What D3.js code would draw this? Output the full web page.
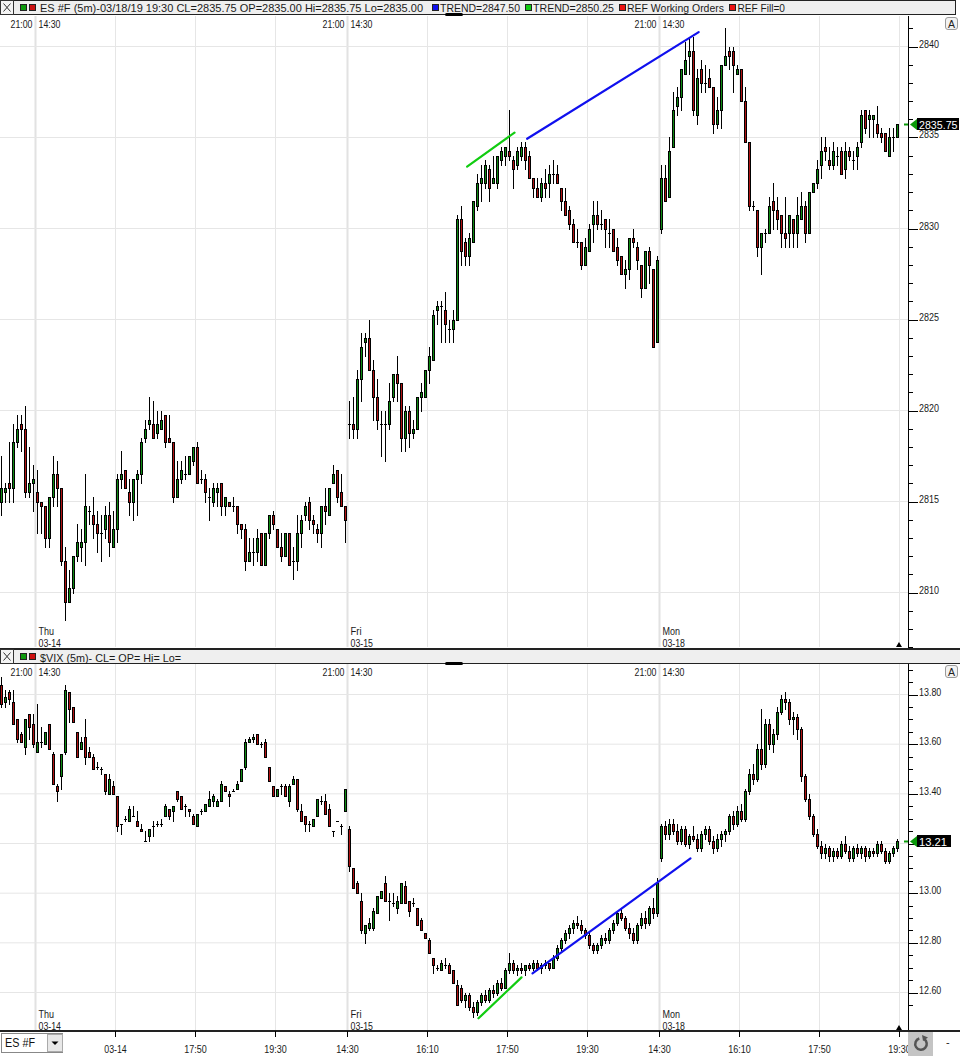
<!DOCTYPE html>
<html><head><meta charset="utf-8">
<script src="https://cdn.jsdelivr.net/npm/d3@7"></script>
<style>body{margin:0;background:#fff}svg{display:block;font-family:"Liberation Sans",Arial,sans-serif}</style>
</head><body><svg id="c" width="960" height="1056"></svg>
<script>
// ===== DATA (O,H,L,C per 5-minute bar) =====
const dayNames = ["Thu","Fri","Mon"];
const dayDates = ["03-14","03-15","03-18"];
const sessionOpen = "14:30", sessionClose = "21:00";
const bottomAxisLabels = ["03-14","17:50","19:30","14:30","16:10","17:50","19:30","14:30","16:10","17:50","19:30"];
const bottomAxisBars   = [29,49,69,87,107,127,147,165,185,205,225];
const esTicks  = [2810,2815,2820,2825,2830,2835,2840];
const vixTicks = [12.6,12.8,13.0,13.2,13.4,13.6,13.8];
const esLast = 2835.75, vixLast = 13.21;

const esWed = [[2815,2817.5,2814.25,2815.75],[2815.5,2816,2815,2815.75],[2816,2818.25,2815,2815.75],[2815.75,2819.25,2815,2818.25],[2818.25,2819.75,2818,2819],[2819.25,2819.75,2817.75,2819],[2819,2820.25,2815.25,2815.5],[2815.5,2818,2815.25,2816],[2816,2817,2814.5,2816.25]];
const esThu = [[2815.5,2816.75,2813.25,2815],[2815,2815,2813.25,2814.75],[2814.75,2814.75,2812.5,2813],[2813,2815.25,2812.5,2815.25],[2815.25,2817.5,2814.75,2816.5],[2816.5,2817.25,2814.75,2815.75],[2815.75,2815.75,2811.5,2811.75],[2811.75,2812.5,2808.5,2809.5],[2809.5,2811.25,2809.5,2810.25],[2810.25,2812,2810,2812],
[2812,2813.75,2811.75,2812.75],[2812.5,2813.5,2811.75,2812.75],[2812.75,2816.5,2811.5,2814.75],[2814.5,2814.75,2813.75,2814.5],[2814.25,2815.25,2813,2813.75],[2813.75,2814.5,2812.25,2813.25],[2813.25,2814.25,2811.75,2813.25],[2813.5,2814.75,2813,2814.25],[2814.25,2815,2812,2812.75],[2812.5,2814.5,2812.5,2813.5],
[2813.5,2816.5,2812.75,2816.25],[2816.25,2817.75,2815.75,2816.5],[2816.75,2816.75,2815.75,2815.75],[2815.5,2816.25,2814.25,2815],[2815,2816.25,2814,2816.25],[2816.25,2816.75,2814.25,2816.5],[2816.5,2818.5,2816,2818.25],[2818.5,2819.5,2818.25,2819],[2819.25,2820.75,2819,2819.5],[2819.25,2820.5,2818.5,2818.5],
[2818.75,2820,2818.5,2819.25],[2819,2820,2819,2819.5],[2819.75,2819.75,2818,2818.25],[2818.5,2819.75,2818.25,2818.25],[2818.25,2818.25,2815,2815.25],[2815.25,2817.25,2815.25,2816.25],[2816.25,2817.25,2816,2816.75],[2816.5,2817.5,2816.25,2816.5],[2816.5,2817.5,2816.5,2817.5],[2817.25,2818,2817,2818],
[2818,2818.25,2816,2816],[2816.25,2816.75,2816,2816.25],[2816.25,2816.5,2815,2815.5],[2815.25,2815.75,2814,2815.25],[2815,2816,2814.75,2815.75],[2815.5,2816,2814.75,2815.75],[2816,2816,2814.25,2814.75],[2814.75,2815.25,2814.25,2815.25],[2815,2815,2814.75,2814.75],[2814.75,2815.25,2814.5,2814.75],
[2814.75,2814.75,2813.25,2813.75],[2813.75,2813.75,2813,2813.5],[2813.5,2813.75,2811.25,2811.75],[2811.75,2813,2811.75,2812.25],[2812.25,2813,2811.5,2812.25],[2812.25,2813.5,2811.75,2813],[2813.25,2813.25,2811.5,2811.5],[2811.5,2813.25,2811.5,2813.25],[2813.25,2814.25,2813,2814.25],[2814.25,2814.5,2813.5,2813.75],
[2813.5,2813.5,2812.5,2812.5],[2812.5,2813.25,2811.75,2812],[2812,2813.25,2812,2813.25],[2813.25,2813.25,2811.5,2811.5],[2811.75,2812.5,2810.75,2811.75],[2811.75,2814.25,2811.25,2813.25],[2813.25,2814.25,2812.5,2814],[2814.25,2815,2814,2814.75],[2815,2815.25,2813.5,2814],[2814,2814.25,2813.25,2813.75],
[2813.5,2813.75,2812.75,2813.25],[2813.25,2814.75,2812.5,2814.75],[2814.75,2815.75,2813.75,2814.5],[2814.25,2815.75,2814.25,2815.75],[2816,2817,2816,2816.5],[2816.75,2816.75,2815,2815.25],[2815.5,2816.5,2814.75,2814.75],[2814.75,2814.75,2812.75,2814]];
const esFri = [[2819.25,2820.5,2818.5,2819.25],[2819.25,2820.75,2818.5,2819],[2819,2822.25,2818.5,2821.75],[2821.75,2824.25,2820.5,2823.5],[2823.75,2824.25,2823,2824],[2824,2825,2822.25,2822.25],[2822.25,2822.75,2819.5,2820.75],[2820.75,2821.75,2819,2819.5],[2819.25,2820,2817.5,2819.25],[2819.25,2820,2817.25,2819.25],
[2819.25,2821.5,2819,2820.5],[2820.75,2822,2820.5,2822],[2822,2823,2820.5,2821.5],[2821.5,2821.5,2817.75,2818.5],[2818.5,2820.25,2817.75,2820],[2820,2820.25,2818,2818.75],[2818.75,2819.5,2818.5,2819],[2819,2820.75,2819,2820.75],[2820.75,2821.5,2820,2821],[2820.75,2822.25,2820.75,2822.25],
[2822.25,2823.5,2821.5,2823],[2822.75,2825.5,2822.75,2825.25],[2825.5,2826,2824.75,2825.75],[2825.75,2826,2823.75,2825.75],[2825.5,2826.5,2823.75,2824.75],[2824.5,2825,2823.75,2824.5],[2824.5,2825.5,2823.75,2825],[2825,2830.75,2825,2830.5],[2830.5,2831.25,2828,2828.75],[2829.25,2829.5,2828,2828.5],
[2828.5,2829.75,2828,2829.5],[2829.25,2831.5,2829.25,2831.5],[2831.25,2833,2831,2832.5],[2832.5,2833.5,2831.5,2832.75],[2832.5,2833.75,2832.25,2833.5],[2833.25,2833.5,2831.5,2832.25],[2832.5,2834,2832.5,2832.75],[2832.5,2834,2832.25,2834],[2833.75,2834.5,2833.5,2834.25],[2834,2834.5,2833.5,2834.5],
[2834.25,2836.5,2833.75,2834],[2833.75,2834,2832.25,2833.25],[2833.5,2834.5,2833.25,2834.25],[2834,2834.75,2833.75,2834.5],[2834.5,2834.75,2833.25,2833.75],[2834,2834.25,2832.75,2832.75],[2832.75,2832.75,2831.75,2832.25],[2832.25,2832.75,2831.75,2831.75],[2831.75,2832.75,2831.5,2832.5],[2832.5,2833.25,2831.75,2832.25],
[2832.5,2833.5,2831.75,2833],[2833,2833.75,2832.5,2833],[2833,2833.5,2832.5,2832.5],[2832.25,2832.25,2831,2831.5],[2831.5,2832.25,2830.75,2830.75],[2831,2831.25,2830,2830.25],[2830.25,2830.5,2829.25,2829.25],[2829.25,2830,2829,2829.25],[2829.25,2829.25,2827.75,2828],[2828,2829.5,2828,2829],
[2828.75,2830.25,2828.75,2830],[2830.25,2831.5,2829.25,2830.75],[2830.75,2831.5,2830,2830.25],[2830.25,2831,2830,2830.25],[2830.5,2830.5,2829,2830],[2829.75,2830.5,2829,2829.75],[2830,2830,2828.75,2828.75],[2829,2829.5,2828,2828.25],[2828.5,2828.5,2827.5,2827.5],[2827.5,2828.25,2826.75,2827.75],
[2827.75,2829.5,2827.25,2829.5],[2829.5,2830,2829,2829.25],[2829,2829.25,2827.75,2828.25],[2828,2828,2826.25,2826.75],[2826.75,2828.75,2826.75,2828.75],[2828.75,2829,2827,2828],[2827.75,2827.75,2823.5,2823.5],[2823.75,2828.5,2823.75,2828.25]];
const esMon = [[2830,2833.5,2829.75,2832.75],[2832.75,2833.5,2831.5,2831.5],[2831.75,2835,2831.75,2834.25],[2834.5,2837.5,2834.5,2836.5],[2836.75,2837.75,2836.25,2837.25],[2837.25,2838.75,2836.5,2838.75],[2838.5,2840.25,2838.5,2839.25],[2839.5,2840.5,2838.5,2839.75],[2839.75,2840.5,2836.25,2836.5],[2836.25,2838.75,2835.75,2838.25],
[2838.75,2839.25,2837.5,2838],[2838,2839,2837.5,2838],[2838.25,2838.75,2837.75,2837.75],[2837.75,2837.75,2835.25,2835.75],[2835.75,2837.25,2835.5,2836.5],[2836.5,2839,2835.5,2839],[2839,2841,2839,2839.5],[2839.75,2840,2838.75,2839.5],[2839.75,2840,2837.5,2839],[2838.5,2839,2838.5,2838.75],
[2838.75,2838.75,2837,2837],[2837,2837.75,2834.75,2834.75],[2834.75,2834.75,2831,2831.25],[2831.25,2831.5,2831,2831.25],[2831,2831,2828.5,2829],[2829,2829.75,2827.5,2829.75],[2829.75,2830,2829.25,2829.75],[2829.75,2831.75,2829.75,2831.25],[2831.5,2832.5,2830,2831],[2831,2831.75,2830,2830.5],
[2830.75,2830.75,2829,2829.75],[2829.75,2831.75,2829,2829.5],[2829.75,2830.75,2829,2830.75],[2830.5,2830.5,2829,2829.75],[2829.75,2831.75,2829,2830.75],[2830.5,2832,2830.5,2831.25],[2831.25,2831.5,2829.25,2829.75],[2829.75,2832,2829.75,2832],[2832,2832.5,2832,2832.5],[2832.5,2833.75,2832.25,2833.25],
[2833.5,2835,2832.75,2834.25],[2834.5,2835,2833.75,2834.25],[2833.75,2834.5,2833.25,2833.5],[2833.5,2834.75,2833.25,2834.25],[2834,2834.5,2833.5,2834],[2834.25,2834.5,2833,2833],[2833.25,2834.75,2832.75,2834.25],[2834.25,2834.5,2833.75,2834],[2833.75,2834.25,2833.25,2833.75],[2834,2834.75,2833.25,2834.5],
[2834.75,2836.5,2834.5,2836.25],[2836.5,2836.5,2835.25,2835.5],[2836,2836.5,2835,2836.25],[2836,2836.25,2835,2836.25],[2835.75,2836.75,2835,2835.25],[2835.25,2835.5,2834.75,2835],[2835.25,2835.25,2834.25,2834.25],[2834,2835.5,2834,2835],[2835,2835.5,2834.25,2835],[2835,2835.75,2835,2835.75]];

const vixWed = [[13.84,13.87,13.75,13.76],[13.77,13.82,13.75,13.79],[13.81,13.82,13.76,13.78],[13.77,13.82,13.68,13.68],[13.70,13.70,13.61,13.62],[13.64,13.65,13.61,13.61],[13.59,13.70,13.56,13.70],[13.72,13.72,13.62,13.67],[13.68,13.72,13.59,13.60]];
const vixThu = [[13.57,13.76,13.57,13.61],[13.61,13.67,13.59,13.61],[13.60,13.65,13.60,13.65],[13.68,13.68,13.58,13.58],[13.56,13.57,13.44,13.44],[13.43,13.44,13.37,13.41],[13.47,13.56,13.42,13.56],[13.57,13.84,13.56,13.82],[13.81,13.81,13.69,13.74],[13.75,13.75,13.69,13.69],
[13.65,13.65,13.55,13.55],[13.58,13.63,13.58,13.61],[13.63,13.70,13.52,13.55],[13.57,13.59,13.55,13.55],[13.55,13.56,13.50,13.50],[13.51,13.53,13.50,13.51],[13.50,13.51,13.48,13.50],[13.48,13.48,13.40,13.41],[13.40,13.48,13.40,13.46],[13.43,13.45,13.40,13.40],
[13.39,13.39,13.25,13.27],[13.28,13.28,13.24,13.28],[13.30,13.31,13.29,13.30],[13.29,13.35,13.29,13.34],[13.31,13.35,13.31,13.31],[13.29,13.33,13.27,13.27],[13.26,13.28,13.25,13.25],[13.21,13.25,13.21,13.21],[13.23,13.26,13.21,13.26],[13.27,13.29,13.23,13.27],
[13.28,13.29,13.27,13.28],[13.28,13.30,13.27,13.28],[13.31,13.36,13.31,13.35],[13.34,13.34,13.30,13.31],[13.33,13.35,13.29,13.35],[13.41,13.41,13.37,13.38],[13.39,13.39,13.34,13.34],[13.35,13.36,13.31,13.35],[13.34,13.34,13.31,13.33],[13.31,13.32,13.28,13.28],
[13.27,13.32,13.27,13.32],[13.33,13.34,13.32,13.33],[13.33,13.36,13.33,13.36],[13.35,13.41,13.35,13.38],[13.37,13.40,13.35,13.39],[13.35,13.38,13.35,13.37],[13.37,13.45,13.37,13.44],[13.43,13.43,13.41,13.41],[13.40,13.41,13.35,13.39],[13.41,13.42,13.41,13.41],
[13.42,13.45,13.42,13.44],[13.45,13.50,13.45,13.50],[13.51,13.62,13.50,13.61],[13.61,13.63,13.61,13.62],[13.62,13.64,13.61,13.63],[13.64,13.64,13.60,13.60],[13.60,13.61,13.59,13.60],[13.61,13.62,13.55,13.55],[13.51,13.51,13.45,13.45],[13.43,13.43,13.39,13.39],
[13.39,13.42,13.39,13.42],[13.43,13.44,13.40,13.43],[13.43,13.44,13.39,13.39],[13.37,13.44,13.35,13.43],[13.44,13.47,13.44,13.46],[13.46,13.46,13.33,13.34],[13.33,13.36,13.29,13.29],[13.31,13.31,13.25,13.28],[13.28,13.29,13.25,13.28],[13.27,13.30,13.27,13.30],
[13.31,13.38,13.31,13.38],[13.37,13.39,13.36,13.37],[13.37,13.40,13.32,13.32],[13.34,13.36,13.27,13.27],[13.25,13.25,13.23,13.25],[13.29,13.29,13.29,13.29],[13.27,13.28,13.24,13.27],[13.33,13.42,13.33,13.42]];
const vixFri = [[13.26,13.27,13.09,13.11],[13.10,13.10,13.02,13.02],[13.04,13.05,13.00,13.00],[12.97,13.00,12.84,12.85],[12.84,12.87,12.80,12.87],[12.86,12.90,12.85,12.88],[12.86,12.94,12.85,12.93],[12.92,12.99,12.92,12.99],[12.98,13.01,12.98,13.01],[13.04,13.07,12.97,12.97],
[12.97,13.00,12.89,12.97],[12.96,13.00,12.95,12.96],[12.94,12.99,12.92,12.97],[12.96,13.04,12.96,13.04],[13.03,13.05,12.96,12.96],[12.97,12.97,12.91,12.93],[12.96,12.98,12.95,12.96],[12.94,12.94,12.87,12.87],[12.89,12.90,12.85,12.85],[12.84,12.84,12.82,12.82],
[12.81,12.82,12.76,12.76],[12.74,12.74,12.68,12.71],[12.70,12.71,12.69,12.70],[12.69,12.73,12.69,12.72],[12.71,12.74,12.70,12.71],[12.71,12.72,12.68,12.68],[12.69,12.69,12.64,12.64],[12.63,12.65,12.55,12.55],[12.62,12.63,12.56,12.57],[12.57,12.60,12.54,12.59],
[12.59,12.60,12.53,12.54],[12.54,12.56,12.50,12.52],[12.52,12.57,12.51,12.56],[12.56,12.60,12.55,12.59],[12.59,12.61,12.56,12.57],[12.57,12.62,12.56,12.61],[12.61,12.63,12.58,12.60],[12.60,12.65,12.59,12.64],[12.64,12.66,12.61,12.62],[12.62,12.70,12.62,12.69],
[12.69,12.76,12.68,12.72],[12.72,12.73,12.68,12.69],[12.69,12.71,12.67,12.70],[12.70,12.72,12.68,12.69],[12.69,12.71,12.67,12.71],[12.71,12.72,12.69,12.70],[12.70,12.73,12.69,12.72],[12.72,12.73,12.69,12.70],[12.70,12.72,12.68,12.71],[12.71,12.73,12.70,12.72],
[12.72,12.72,12.69,12.70],[12.70,12.75,12.70,12.74],[12.74,12.79,12.73,12.78],[12.78,12.82,12.77,12.81],[12.81,12.85,12.80,12.84],[12.84,12.87,12.82,12.86],[12.86,12.89,12.84,12.88],[12.88,12.91,12.86,12.87],[12.87,12.89,12.84,12.85],[12.85,12.86,12.82,12.83],
[12.83,12.84,12.78,12.79],[12.79,12.80,12.76,12.77],[12.77,12.80,12.76,12.79],[12.79,12.83,12.78,12.82],[12.82,12.84,12.80,12.81],[12.81,12.86,12.80,12.85],[12.85,12.89,12.84,12.88],[12.88,12.93,12.87,12.92],[12.92,12.94,12.89,12.90],[12.90,12.91,12.85,12.86],
[12.86,12.88,12.82,12.84],[12.84,12.86,12.80,12.81],[12.81,12.88,12.80,12.87],[12.87,12.92,12.86,12.90],[12.90,12.93,12.86,12.88],[12.88,12.95,12.87,12.94],[12.94,12.98,12.90,12.92],[12.92,13.06,12.91,13.04]];
const vixMon = [[13.14,13.28,13.13,13.27],[13.27,13.29,13.22,13.24],[13.24,13.30,13.22,13.28],[13.28,13.30,13.24,13.25],[13.25,13.28,13.20,13.21],[13.21,13.27,13.20,13.26],[13.26,13.27,13.19,13.20],[13.20,13.24,13.18,13.23],[13.23,13.27,13.21,13.22],[13.22,13.24,13.17,13.18],
[13.18,13.25,13.17,13.24],[13.24,13.27,13.22,13.26],[13.26,13.27,13.20,13.21],[13.21,13.23,13.16,13.18],[13.18,13.24,13.17,13.22],[13.22,13.25,13.19,13.24],[13.24,13.26,13.21,13.25],[13.25,13.32,13.24,13.31],[13.31,13.33,13.26,13.28],[13.28,13.35,13.27,13.33],
[13.33,13.36,13.29,13.30],[13.30,13.42,13.29,13.41],[13.41,13.50,13.40,13.48],[13.48,13.52,13.44,13.46],[13.46,13.60,13.45,13.58],[13.58,13.74,13.50,13.52],[13.52,13.70,13.51,13.68],[13.68,13.70,13.58,13.60],[13.60,13.66,13.57,13.64],[13.64,13.75,13.62,13.73],
[13.73,13.80,13.72,13.78],[13.78,13.81,13.74,13.77],[13.77,13.78,13.68,13.70],[13.70,13.73,13.64,13.71],[13.71,13.72,13.62,13.66],[13.66,13.67,13.45,13.47],[13.47,13.48,13.37,13.38],[13.38,13.40,13.30,13.31],[13.31,13.32,13.23,13.24],[13.24,13.26,13.18,13.19],
[13.19,13.21,13.14,13.16],[13.16,13.20,13.14,13.18],[13.18,13.19,13.13,13.15],[13.15,13.18,13.13,13.17],[13.17,13.18,13.14,13.15],[13.15,13.21,13.14,13.20],[13.20,13.23,13.16,13.17],[13.17,13.19,13.13,13.14],[13.14,13.19,13.13,13.18],[13.18,13.20,13.15,13.16],
[13.16,13.19,13.14,13.18],[13.18,13.19,13.13,13.15],[13.15,13.18,13.14,13.17],[13.17,13.18,13.15,13.16],[13.16,13.21,13.15,13.20],[13.20,13.21,13.16,13.17],[13.17,13.18,13.12,13.13],[13.13,13.17,13.12,13.16],[13.16,13.19,13.15,13.18],[13.18,13.22,13.17,13.21]];

// trend lines: [barIndex, value] endpoints
const esTrendGreen  = [[116.4,2833.4],[128.25,2835.27]];
const esTrendBlue   = [[131.4,2834.93],[174.3,2840.79]];
const vixTrendGreen = [[119.25,12.496],[130,12.661]];
const vixTrendBlue  = [[132.75,12.677],[172.25,13.14]];

// ===== DRAW =====
const svg = d3.select("#c");
const es  = [].concat(esWed, esThu, esFri, esMon);
const vix = [].concat(vixWed, vixThu, vixFri, vixMon);
const dayStart = [esWed.length, esWed.length+esThu.length, esWed.length+esThu.length+esFri.length];
const nBars = es.length;
const x = d3.scaleLinear().domain([0, nBars-1]).range([1.5, 1.5 + 4*(nBars-1)]);
const UP = "#0e8a12", DN = "#b01212", GRID = "#e6e6e6", INK = "#1a1a1a";
const AX = 908;

const topP = {y0:16, y1:647, y: d3.scaleLinear().domain([2810,2840]).range([592.5,46.5])};
const botP = {y0:664, y1:1030, y: d3.scaleLinear().domain([12.6,13.8]).range([992.5,694.5])};

svg.append("rect").attr("width",960).attr("height",1056).attr("fill","#fff");
const defs = svg.append("defs");
[["clipTop",topP],["clipBot",botP]].forEach(([id,p])=>{
  defs.append("clipPath").attr("id",id).append("rect").attr("x",0).attr("y",p.y0).attr("width",AX).attr("height",p.y1-p.y0);
});

function T(g,s,xx,yy,o={}){
  const t=g.append("text").attr("x",xx).attr("y",yy).text(s).attr("font-size",o.fs||10).attr("fill",o.fill||INK);
  if(o.anchor) t.attr("text-anchor",o.anchor);
  if(o.len) t.attr("textLength",o.len).attr("lengthAdjust","spacingAndGlyphs");
  if(o.fw) t.attr("font-weight",o.fw);
  return t;
}

const gridBars = [];
dayStart.forEach(d=>{ for(let k=0;k<4;k++) gridBars.push({b:d+20*k, day:k===0}); });
const gridX = b => x(b) - 2;

function panel(p, data, ticks, clipId, trendG, trendB, last, fmt, minorStep, minorFrom, minorTo, lblLen, boxW, boxLen){
  const g = svg.append("g");
  g.selectAll("line.vg").data(gridBars.filter(d=>gridX(d.b)<AX)).join("line")
    .attr("x1",d=>gridX(d.b)).attr("x2",d=>gridX(d.b)).attr("y1",p.y0).attr("y2",p.y1)
    .attr("stroke",d=>d.day?"#e2e2e2":GRID).attr("stroke-width",d=>d.day?2:1);
  g.selectAll("line.hg").data(ticks).join("line")
    .attr("x1",0).attr("x2",AX).attr("y1",d=>p.y(d)).attr("y2",d=>p.y(d)).attr("stroke",GRID);
  const cg = g.append("g").attr("clip-path",`url(#${clipId})`);
  cg.selectAll("line.w").data(data).join("line")
    .attr("x1",(d,i)=>x(i)).attr("x2",(d,i)=>x(i))
    .attr("y1",d=>Math.round(p.y(d[1]))).attr("y2",d=>Math.round(p.y(d[2]))+1)
    .attr("stroke","#000").attr("stroke-width",1);
  const bodies = data.map((d,i)=>{
    const t=Math.round(p.y(Math.max(d[0],d[3]))), b=Math.round(p.y(Math.min(d[0],d[3])));
    return {i,t,b,up:d[3]>=d[0]};
  });
  cg.selectAll("rect.b").data(bodies.filter(d=>d.b-d.t>=2)).join("rect")
    .attr("x",d=>x(d.i)-1).attr("y",d=>d.t+0.5).attr("width",2).attr("height",d=>d.b-d.t)
    .attr("fill",d=>d.up?UP:DN).attr("stroke","#000").attr("stroke-width",1);
  cg.selectAll("line.dj").data(bodies.filter(d=>d.b-d.t<2)).join("line")
    .attr("x1",d=>x(d.i)-1.5).attr("x2",d=>x(d.i)+1.5).attr("y1",d=>d.t+0.5).attr("y2",d=>d.t+0.5)
    .attr("stroke","#000").attr("stroke-width",d=>d.b-d.t>=1?2:1);
  [[trendG,"#11cc11"],[trendB,"#1010ee"]].forEach(([tl,c])=>{
    cg.append("line").attr("x1",x(tl[0][0])).attr("y1",p.y(tl[0][1])).attr("x2",x(tl[1][0])).attr("y2",p.y(tl[1][1]))
      .attr("stroke",c).attr("stroke-width",2.2).attr("stroke-linecap","round");
  });
  dayStart.forEach(d=>{
    const gx = gridX(d);
    T(g,sessionClose,gx-3,p.y0+12,{anchor:"end",len:22});
    T(g,sessionOpen,gx+3,p.y0+12,{len:22});
  });
  dayStart.forEach((d,k)=>{
    const gx = gridX(d);
    T(g,dayNames[k],gx+3,p.y1-12,{len:[15.5,11,17.5][k]});
    T(g,dayDates[k],gx+3,p.y1-0.5,{len:22.5});
  });
  g.append("path").attr("d",`M${x(nBars-1)-1.5},${p.y1}l6,0l-3,-5z`).attr("fill","#000");
  // right axis
  const ax = svg.append("g");
  ax.append("line").attr("x1",AX+0.5).attr("x2",AX+0.5).attr("y1",p.y0).attr("y2",p.y1).attr("stroke","#000");
  const minors = d3.range(minorFrom, minorTo+1e-9, minorStep).map(v=>+v.toFixed(2));
  ax.selectAll("line.mt").data(minors).join("line")
    .attr("x1",AX).attr("x2",AX+5).attr("y1",d=>Math.round(p.y(d))+0.5).attr("y2",d=>Math.round(p.y(d))+0.5).attr("stroke","#000");
  ax.selectAll("line.Mt").data(ticks).join("line")
    .attr("x1",AX).attr("x2",AX+10).attr("y1",d=>Math.round(p.y(d))+0.5).attr("y2",d=>Math.round(p.y(d))+0.5).attr("stroke","#000");
  const ly = Math.round(p.y(last))+0.5;
  // labels hidden under the last-price box in the reference are left out
  ticks.filter(v=>Math.abs(p.y(v)-ly)>8).forEach(v=>T(ax,fmt(v),AX+11,Math.round(p.y(v))+0.5,{len:lblLen}));
  ax.append("line").attr("x1",AX-4).attr("x2",AX).attr("y1",ly).attr("y2",ly).attr("stroke","#0a9a0a").attr("stroke-width",2);
  ax.append("path").attr("d",`M${AX+2},${ly}L${AX+9},${ly-5.5}L${AX+9},${ly+5.5}Z`).attr("fill","#0a9a0a");
  const ls = last.toFixed(2);
  ax.append("rect").attr("x",AX+9).attr("y",ly-6.5).attr("width",boxW).attr("height",12).attr("fill","#000");
  T(ax,ls,AX+11,ly+4,{fs:10.5,fill:"#fff",len:boxLen});
  ax.append("rect").attr("x",945.5).attr("y",p.y0+1.5).attr("width",12).attr("height",12).attr("rx",2.5).attr("fill","#f2f2f2").attr("stroke","#9a9a9a");
  T(ax,"A",951.5,p.y0+11.5,{anchor:"middle",fs:10.5,fill:"#222"});
}
const fmtEs = v=>String(v), fmtVix = v=>v.toFixed(2);
panel(topP, es, esTicks, "clipTop", esTrendGreen, esTrendBlue, esLast, fmtEs, 1, 2807, 2841, 20, 42, 38.5);
panel(botP, vix, vixTicks, "clipBot", vixTrendGreen, vixTrendBlue, vixLast, fmtVix, 0.05, 12.55, 13.9, 22.3, 34, 28);

// ===== header bars =====
function squares(g,xs,cols,yy){
  xs.forEach((xx,k)=>g.append("rect").attr("x",xx+0.5).attr("y",yy+0.5).attr("width",6).attr("height",6).attr("fill",cols[k]).attr("stroke","#222"));
}
function closeBox(g,y0,h){
  g.append("rect").attr("x",0.5).attr("y",y0+0.5).attr("width",13).attr("height",h-1).attr("fill","#f4f4f4").attr("stroke","#333");
  g.append("path").attr("d",`M3.5,${y0+3.5}L10.5,${y0+h-3.5}M10.5,${y0+3.5}L3.5,${y0+h-3.5}`).attr("stroke","#333").attr("stroke-width",1);
}
const hb = svg.append("g");
hb.append("rect").attr("x",0.5).attr("y",0.5).attr("width",955).attr("height",14).attr("fill","#efefef").attr("stroke","#222");
closeBox(hb,0,15);
squares(hb,[20,29],["#0e9a0e","#cc1111"],4);
T(hb,"ES #F (5m)-03/18/19 19:30 CL=2835.75 OP=2835.00 Hi=2835.75 Lo=2835.00",40,11.5,{fs:11,len:383});
squares(hb,[432],["#1010ee"],4);
T(hb,"TREND=2847.50",440,11.5,{fs:11,len:80});
squares(hb,[525],["#11cc11"],4);
T(hb,"TREND=2850.25",533,11.5,{fs:11,len:81});
squares(hb,[619],["#ee1111"],4);
T(hb,"REF Working Orders",627,11.5,{fs:10.5,len:97});
squares(hb,[729],["#ee1111"],4);
T(hb,"REF Fill=0",737.5,11.5,{fs:11,len:47.5});
hb.append("rect").attr("x",445).attr("y",13).attr("width",18).attr("height",3).attr("rx",1.5).attr("fill","#000");

const sb = svg.append("g");
sb.append("rect").attr("x",0).attr("y",648).attr("width",960).attr("height",16).attr("fill","#efefef");
sb.append("line").attr("x1",0).attr("x2",960).attr("y1",649).attr("y2",649).attr("stroke","#222").attr("stroke-width",2);
sb.append("line").attr("x1",0).attr("x2",960).attr("y1",663.5).attr("y2",663.5).attr("stroke","#222");
closeBox(sb,649,15);
squares(sb,[20,29],["#0e9a0e","#cc1111"],653);
T(sb,"$VIX (5m)- CL= OP= Hi= Lo=",40,661.5,{fs:11.5,len:141});
sb.append("rect").attr("x",445).attr("y",662).attr("width",18).attr("height",3).attr("rx",1.5).attr("fill","#000");

// ===== bottom time axis =====
const ba = svg.append("g");
ba.append("line").attr("x1",0).attr("x2",960).attr("y1",1031).attr("y2",1031).attr("stroke","#222").attr("stroke-width",2);
ba.selectAll("line.bt").data(bottomAxisBars).join("line")
  .attr("x1",d=>gridX(d)).attr("x2",d=>gridX(d)).attr("y1",1031).attr("y2",1037).attr("stroke","#000");
bottomAxisLabels.forEach((s,k)=>T(ba,s,gridX(bottomAxisBars[k]),1052.5,{anchor:"middle",len:22.5}));
ba.append("rect").attr("x",1.5).attr("y",1033.5).attr("width",61).attr("height",19).attr("fill","#fff").attr("stroke","#888");
T(ba,"ES #F",5,1047,{fs:12,len:30,fill:"#111"});
ba.append("rect").attr("x",47.5).attr("y",1034.5).attr("width",15).attr("height",17).attr("fill","#e8e8e8").attr("stroke","#aaa");
ba.append("path").attr("d","M51.5,1041.5L58.5,1041.5L55,1045Z").attr("fill","#000");
ba.append("rect").attr("x",908).attr("y",1032).attr("width",25).attr("height",24).attr("fill","#c4c4c4");
ba.append("path").attr("d",d3.arc()({innerRadius:4.5,outerRadius:7,startAngle:0.5,endAngle:2*Math.PI-0.3})).attr("transform","translate(921,1044)").attr("fill","#555");
ba.append("path").attr("d","M922,1035L928,1037.5L923,1041Z").attr("fill","#555");
ba.append("rect").attr("x",933).attr("y",1032).attr("width",27).attr("height",24).attr("fill","#fff");
T(ba,"-",946,1046,{fs:11,fill:"#222"});
</script></body></html>
